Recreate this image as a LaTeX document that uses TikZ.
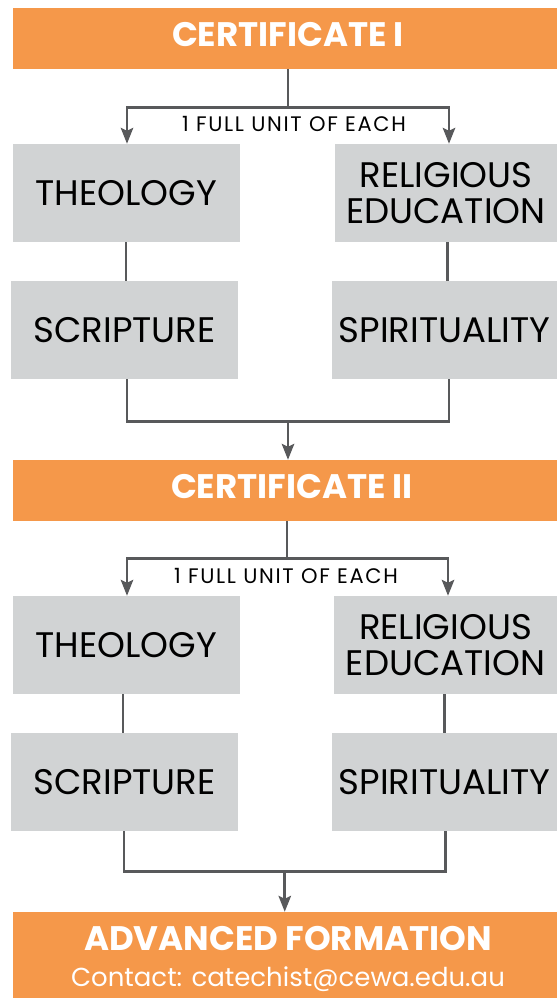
\documentclass[tikz,border=0pt]{standalone}
\usepackage{fontspec}
\setmainfont{Poppins}
\usetikzlibrary{arrows.meta,calc}
\definecolor{orng}{HTML}{F5984A}
\definecolor{boxg}{HTML}{D1D3D4}
\definecolor{lineg}{HTML}{58595B}
\tikzset{
  cert/.style={fill=orng, inner sep=0pt, minimum width=544pt, minimum height=61pt},
  certtxt/.style={anchor=base, inner sep=0pt, text=white, font=\fontsize{34}{36}\selectfont\bfseries},
  subj/.style={fill=boxg, inner sep=0pt, minimum height=98pt, text=black, font=\fontsize{35.5}{36}\selectfont, align=center},
  conn/.style={draw=lineg, line width=2.6pt},
  arr/.style={conn, -{Stealth[length=16pt,width=12.5pt,inset=3pt]}},
  lbl/.style={font=\fontsize{21}{22}\selectfont\addfontfeature{LetterSpace=8}, text=black, inner sep=0pt, anchor=base}
}
\begin{document}
\begin{tikzpicture}[x=1pt,y=1pt]
\fill[white] (0,0) rectangle (557,-999);
\useasboundingbox (0,0) rectangle (557,-999);
% Certificate I block
\node[cert] (c1) at (285,-38.5) {};
\node[certtxt] (c1t) at (288,-46) {CERTIFICATE I};
\node[subj, minimum width=227pt] (th1) at (126.5,-193) {THEOLOGY};
\node[subj, minimum width=222pt] (re1) at (446,-193) {RELIGIOUS\\EDUCATION};
\node[subj, minimum width=227pt] (sc1) at (124.5,-330) {SCRIPTURE};
\node[subj, minimum width=225pt] (sp1) at (444.5,-330) {SPIRITUALITY};
% Certificate II block
\node[cert] (c2) at (285,-490.5) {};
\node[certtxt] (c2t) at (292,-498) {CERTIFICATE II};
\node[subj, minimum width=227pt] (th2) at (126.5,-645) {THEOLOGY};
\node[subj, minimum width=223pt] (re2) at (445.5,-645) {RELIGIOUS\\EDUCATION};
\node[subj, minimum width=227pt] (sc2) at (124.5,-782) {SCRIPTURE};
\node[subj, minimum width=225pt] (sp2) at (444.5,-782) {SPIRITUALITY};
% Advanced
\node[fill=orng, inner sep=0pt, minimum width=544pt, minimum height=86pt] (adv) at (285,-955) {};
\node[certtxt] (advt) at (288,-950) {ADVANCED FORMATION};
\node[anchor=base, inner sep=0pt, text=white, font=\fontsize{26}{28}\selectfont] (advc) at (288,-986) {Contact: catechist@cewa.edu.au};
% connectors block 1
\coordinate (c1s) at ([xshift=3pt]c1.south);
\coordinate (th1n) at ([xshift=0.5pt]th1.north);
\coordinate (re1n) at ([xshift=3pt]re1.north);
\coordinate (th1s) at ([xshift=-0.5pt]th1.south);
\coordinate (re1s) at ([xshift=1.5pt]re1.south);
\coordinate (sc1s) at ([xshift=2.5pt]sc1.south);
\coordinate (sp1s) at ([xshift=4.5pt]sp1.south);
\draw[conn] (c1s) -- ++(0,-38) coordinate (j1);
\draw[arr] (j1) -| (th1n);
\draw[arr] (j1) -| (re1n);
\node[lbl] (l1) at (294,-131) {1 FULL UNIT OF EACH};
\draw[conn] (th1s) -- (th1s |- sc1.north);
\draw[conn] (re1s) -- (re1s |- sp1.north);
\draw[conn] (sc1s) -- ++(0,-42) coordinate (m1a) -- (m1a -| sp1s) coordinate (m1b) -- (sp1s);
\coordinate (m1) at ($(m1a)!0.5!(m1b)$);
\draw[arr] (m1) -- (m1 |- c2.north);
% connectors block 2
\coordinate (c2s) at ([xshift=2pt]c2.south);
\coordinate (th2n) at ([xshift=0.5pt]th2.north);
\coordinate (re2n) at ([xshift=2.5pt]re2.north);
\coordinate (th2s) at ([xshift=-3.5pt]th2.south);
\coordinate (re2s) at ([xshift=-1pt]re2.south);
\coordinate (sc2s) at ([xshift=-0.5pt]sc2.south);
\coordinate (sp2s) at ([xshift=1pt]sp2.south);
\draw[conn] (c2s) -- ++(0,-37) coordinate (j2);
\draw[arr] (j2) -| (th2n);
\draw[arr] (j2) -| (re2n);
\node[lbl] (l2) at (286,-583) {1 FULL UNIT OF EACH};
\draw[conn] (th2s) -- (th2s |- sc2.north);
\draw[conn] (re2s) -- (re2s |- sp2.north);
\draw[conn] (sc2s) -- ++(0,-40) coordinate (m2a) -- (m2a -| sp2s) coordinate (m2b) -- (sp2s);
\coordinate (m2) at ($(m2a)!0.5!(m2b)$);
\draw[arr] (m2) -- (m2 |- adv.north);
\end{tikzpicture}
\end{document}
